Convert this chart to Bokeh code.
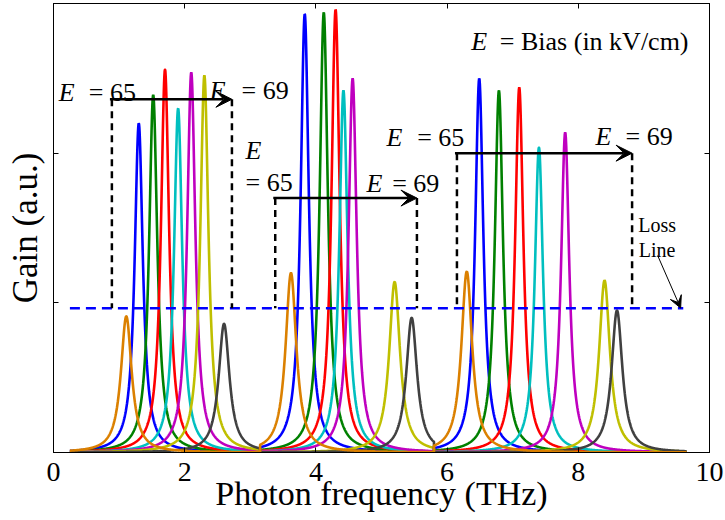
import numpy as np
from bokeh.plotting import figure
from bokeh.models import (Range1d, LinearAxis, Label, Arrow, VeeHead, FixedTicker,
                          CustomJSTickFormatter)
from bokeh.embed import file_html
from bokeh.resources import INLINE

# ---------------- data ----------------
series_colors = ["#0000FF", "#008000", "#FF0000", "#00BFBF", "#BF00BF", "#BFBF00", "#404040", "#DB8000"]

# three groups of gain peaks; within a group, one peak per colour (same order as series_colors)
group_bounds = [(0.25, 3.15), (3.15, 5.80), (5.80, 9.65)]

g1_center = [1.30, 1.52, 1.70, 1.90, 2.10, 2.30, 2.60, 1.11]
g1_height = [2.20, 2.39, 2.56, 2.30, 2.54, 2.52, 0.86, 0.91]
g1_hwhm   = [0.075, 0.075, 0.075, 0.075, 0.075, 0.075, 0.10, 0.10]

g2_center = [3.83, 4.12, 4.30, 4.42, 4.56, 5.20, 5.46, 3.62]
g2_height = [2.93, 2.94, 2.96, 2.42, 2.50, 1.14, 0.90, 1.20]
g2_hwhm   = [0.075, 0.075, 0.075, 0.075, 0.075, 0.10, 0.10, 0.10]

g3_center = [6.49, 6.79, 7.10, 7.40, 7.80, 8.40, 8.59, 6.30]
g3_height = [2.50, 2.42, 2.44, 2.04, 2.14, 1.15, 0.95, 1.21]
g3_hwhm   = [0.075, 0.075, 0.075, 0.075, 0.075, 0.10, 0.10, 0.10]

loss_level = 0.963
loss_span = (0.25, 9.60)

x_ticks = [0, 2, 4, 6, 8, 10]
y_ticks = [0, 1, 2, 3]

# bias brackets per group: x start, x end, arrow level
bracket_x0 = [0.89, 3.38, 6.15]
bracket_x1 = [2.72, 5.54, 8.82]
bracket_y = [2.36, 1.70, 2.00]

groups = [
    (g1_center, g1_height, g1_hwhm),
    (g2_center, g2_height, g2_hwhm),
    (g3_center, g3_height, g3_hwhm),
]

# ---------------- figure ----------------
p = figure(width=725, height=520, x_range=Range1d(0, 10), y_range=Range1d(0, 3),
           output_backend="svg", toolbar_location=None,
           min_border_left=53, min_border_right=16, min_border_top=3, min_border_bottom=68)
p.background_fill_color = "white"
p.border_fill_color = "white"
p.grid.visible = False
p.outline_line_color = "black"
p.outline_line_width = 1

FONT = "'Liberation Serif', 'Times New Roman', Times, serif"

# Lorentzian gain lines: one line per colour, piecewise over the three groups
for k, col in enumerate(series_colors):
    xs, ys = [], []
    for (lo, hi), (cen, hgt, wid) in zip(group_bounds, groups):
        nu = np.linspace(lo, hi, 700)
        g = hgt[k] * wid[k] ** 2 / ((nu - cen[k]) ** 2 + wid[k] ** 2)
        xs.append(nu)
        ys.append(g)
    p.line(np.concatenate(xs), np.concatenate(ys), line_color=col, line_width=2.6)

# loss line
p.line(list(loss_span), [loss_level, loss_level], line_color="#0000FF", line_width=2.5,
       line_dash="10 6")

# brackets: dashed verticals + arrows
for x0, x1, yl in zip(bracket_x0, bracket_x1, bracket_y):
    p.segment(x0=[x0, x1], y0=[yl, yl], x1=[x0, x1], y1=[loss_level, loss_level],
              line_color="black", line_width=2.5, line_dash="7 5")
    p.add_layout(Arrow(x_start=x0 - 0.03, y_start=yl, x_end=x1, y_end=yl,
                       line_color="black", line_width=2.5,
                       end=VeeHead(size=16, fill_color="black", line_color="black", line_width=1)))

# Loss line pointer
p.add_layout(Arrow(x_start=9.21, y_start=1.316, x_end=9.56, y_end=0.965,
                   line_color="black", line_width=1,
                   end=VeeHead(size=12, fill_color="black", line_color="black", line_width=1)))

def lab(x, y, text, size=26, italic=False):
    p.add_layout(Label(x=x, y=y, text=text, text_font=FONT, text_font_size=f"{size}px",
                       text_font_style="italic" if italic else "normal",
                       text_color="black", text_baseline="alphabetic", text_align="left"))

# "E = value" annotations
lab(0.081, 2.407, "E", italic=True);  lab(0.538, 2.407, "= 65")
lab(2.383, 2.419, "E", italic=True);  lab(2.866, 2.419, "= 69")
lab(2.927, 2.018, "E", italic=True);  lab(2.927, 1.806, "= 65")
lab(4.771, 1.799, "E", italic=True);  lab(5.163, 1.799, "= 69")
lab(5.076, 2.107, "E", italic=True);  lab(5.544, 2.107, "= 65")
lab(8.262, 2.111, "E", italic=True);  lab(8.720, 2.111, "= 69")
lab(6.367, 2.748, "E", italic=True);  lab(6.804, 2.748, "= Bias (in kV/cm)")
lab(8.913, 1.517, "Loss", size=20)
lab(8.922, 1.350, "Line", size=20)

# axes
for ax in (p.xaxis[0], p.yaxis[0]):
    ax.major_tick_in = 5
    ax.major_tick_out = 0
    ax.minor_tick_line_color = None
    ax.axis_line_color = "black"
    ax.major_tick_line_color = "black"

p.xaxis.ticker = FixedTicker(ticks=x_ticks)
p.xaxis.major_label_text_font = FONT
p.xaxis.major_label_text_font_size = "28px"
p.xaxis.major_label_text_color = "black"
p.xaxis.major_label_standoff = 10
p.xaxis.axis_label = "Photon frequency (THz)"
p.xaxis.axis_label_text_font = FONT
p.xaxis.axis_label_text_font_size = "34px"
p.xaxis.axis_label_text_font_style = "normal"
p.xaxis.axis_label_text_color = "black"
p.xaxis.axis_label_standoff = -9

p.yaxis.ticker = FixedTicker(ticks=y_ticks)
p.yaxis.formatter = CustomJSTickFormatter(code="return ''")
p.yaxis.major_label_standoff = 0
p.yaxis.axis_label = "Gain (a.u.)"
p.yaxis.axis_label_text_font = FONT
p.yaxis.axis_label_text_font_size = "35px"
p.yaxis.axis_label_text_font_style = "normal"
p.yaxis.axis_label_text_color = "black"
p.yaxis.axis_label_standoff = 9

top = LinearAxis(ticker=FixedTicker(ticks=x_ticks), formatter=CustomJSTickFormatter(code="return ''"),
                 major_tick_in=5, major_tick_out=0, minor_tick_line_color=None,
                 major_label_standoff=0, axis_line_color="black")
right = LinearAxis(ticker=FixedTicker(ticks=y_ticks), formatter=CustomJSTickFormatter(code="return ''"),
                   major_tick_in=5, major_tick_out=0, minor_tick_line_color=None,
                   major_label_standoff=0, axis_line_color="black")
p.add_layout(top, "above")
p.add_layout(right, "right")

open("out.html", "w").write(file_html(p, INLINE))
